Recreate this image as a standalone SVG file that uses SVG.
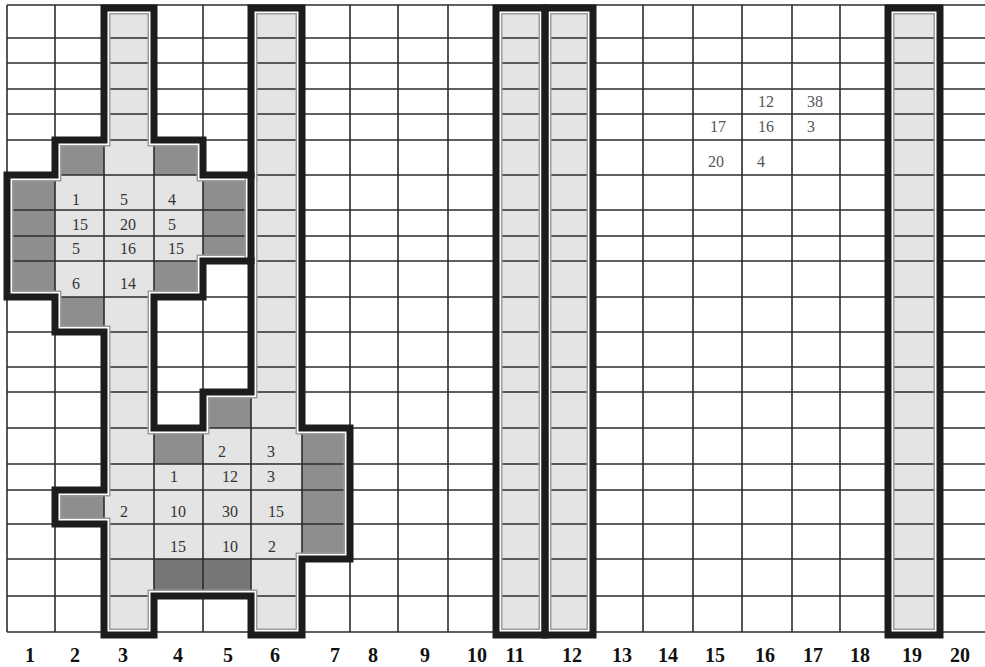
<svg xmlns="http://www.w3.org/2000/svg" xmlns:xlink="http://www.w3.org/1999/xlink" width="985" height="667" viewBox="0 0 985 667">
<style>
.lt{fill:#e4e4e4}
.dk{fill:#8e8e8e}
.dk2{fill:#777}
.grid line{stroke:#2b2b2b;stroke-width:1.6}
.o1{fill:none;stroke:#9c9c9c;stroke-width:13}
.o2{fill:none;stroke:#fff;stroke-width:10}
.o3{fill:none;stroke:#1c1c1c;stroke-width:7;stroke-linecap:square}
.num{font-family:"Liberation Serif","Times New Roman",serif;font-size:16px;fill:#333}
.num2{font-family:"Liberation Serif","Times New Roman",serif;font-size:16px;fill:#555}
.lbl{font-family:"Liberation Serif","Times New Roman",serif;font-weight:bold;font-size:20px;fill:#111;text-anchor:middle}
</style>
<defs>
<path id="pL" fill-rule="evenodd" d="M104,8 H154 V140 H203 V175 H251 V8 H302 V428 H350 V559 H302 V635 H251 V596 H154 V635 H104 V524 H55 V490 H104 V332 H55 V297 H7 V175 H55 V140 H104 Z M154,297 H203 V261 H251 V392 H203 V428 H154 Z"/>
<path id="p11" d="M496,8 H545 V635 H496 Z"/>
<path id="p12" d="M545,8 H593 V635 H545 Z"/>
<path id="p19" d="M888,8 H940 V635 H888 Z"/>
<clipPath id="cL"><path clip-rule="evenodd" d="M104,8 H154 V140 H203 V175 H251 V8 H302 V428 H350 V559 H302 V635 H251 V596 H154 V635 H104 V524 H55 V490 H104 V332 H55 V297 H7 V175 H55 V140 H104 Z M154,297 H203 V261 H251 V392 H203 V428 H154 Z"/></clipPath>
<clipPath id="c11"><path d="M496,8 H545 V635 H496 Z"/></clipPath>
<clipPath id="c12"><path d="M545,8 H593 V635 H545 Z"/></clipPath>
<clipPath id="c19"><path d="M888,8 H940 V635 H888 Z"/></clipPath>
</defs>
<rect width="985" height="667" fill="#fff"/>

<g id="fills">
<use xlink:href="#pL" class="lt" fill-rule="evenodd"/>
<use xlink:href="#p11" class="lt"/>
<use xlink:href="#p12" class="lt"/>
<use xlink:href="#p19" class="lt"/>
<rect class="dk" x="55" y="140" width="49" height="35"/>
<rect class="dk" x="154" y="140" width="49" height="35"/>
<rect class="dk" x="7" y="175" width="48" height="122"/>
<rect class="dk" x="203" y="175" width="48" height="86"/>
<rect class="dk" x="154" y="261" width="49" height="36"/>
<rect class="dk" x="55" y="297" width="49" height="35"/>
<rect class="dk" x="203" y="392" width="48" height="36"/>
<rect class="dk" x="154" y="428" width="49" height="36"/>
<rect class="dk" x="302" y="428" width="48" height="131"/>
<rect class="dk" x="55" y="490" width="49" height="34"/>
<rect class="dk2" x="154" y="559" width="97" height="37"/>
</g>

<g id="grid" class="grid">
<line x1="7" y1="5" x2="985" y2="5"/>
<line x1="7" y1="38" x2="985" y2="38"/>
<line x1="7" y1="63" x2="985" y2="63"/>
<line x1="7" y1="89" x2="985" y2="89"/>
<line x1="7" y1="114" x2="985" y2="114"/>
<line x1="7" y1="140" x2="985" y2="140"/>
<line x1="7" y1="175" x2="985" y2="175"/>
<line x1="7" y1="210" x2="985" y2="210"/>
<line x1="7" y1="236" x2="985" y2="236"/>
<line x1="7" y1="261" x2="985" y2="261"/>
<line x1="7" y1="297" x2="985" y2="297"/>
<line x1="7" y1="332" x2="985" y2="332"/>
<line x1="7" y1="367" x2="985" y2="367"/>
<line x1="7" y1="392" x2="985" y2="392"/>
<line x1="7" y1="428" x2="985" y2="428"/>
<line x1="7" y1="464" x2="985" y2="464"/>
<line x1="7" y1="490" x2="985" y2="490"/>
<line x1="7" y1="524" x2="985" y2="524"/>
<line x1="7" y1="559" x2="985" y2="559"/>
<line x1="7" y1="596" x2="985" y2="596"/>
<line x1="7" y1="632" x2="985" y2="632"/>
<line x1="7" y1="5" x2="7" y2="632"/>
<line x1="55" y1="5" x2="55" y2="632"/>
<line x1="104" y1="5" x2="104" y2="632"/>
<line x1="154" y1="5" x2="154" y2="632"/>
<line x1="203" y1="5" x2="203" y2="632"/>
<line x1="251" y1="5" x2="251" y2="632"/>
<line x1="302" y1="5" x2="302" y2="632"/>
<line x1="350" y1="5" x2="350" y2="632"/>
<line x1="398" y1="5" x2="398" y2="632"/>
<line x1="448" y1="5" x2="448" y2="632"/>
<line x1="496" y1="5" x2="496" y2="632"/>
<line x1="545" y1="5" x2="545" y2="632"/>
<line x1="593" y1="5" x2="593" y2="632"/>
<line x1="643" y1="5" x2="643" y2="632"/>
<line x1="693" y1="5" x2="693" y2="632"/>
<line x1="742" y1="5" x2="742" y2="632"/>
<line x1="792" y1="5" x2="792" y2="632"/>
<line x1="840" y1="5" x2="840" y2="632"/>
<line x1="888" y1="5" x2="888" y2="632"/>
<line x1="940" y1="5" x2="940" y2="632"/>
</g>

<g id="outline-inner">
<g clip-path="url(#cL)"><use xlink:href="#pL" class="o1"/><use xlink:href="#pL" class="o2"/></g>
<g clip-path="url(#c11)"><use xlink:href="#p11" class="o1"/><use xlink:href="#p11" class="o2"/></g>
<g clip-path="url(#c12)"><use xlink:href="#p12" class="o1"/><use xlink:href="#p12" class="o2"/></g>
<g clip-path="url(#c19)"><use xlink:href="#p19" class="o1"/><use xlink:href="#p19" class="o2"/></g>
<line x1="251" y1="178.5" x2="251" y2="257.5" stroke="#9c9c9c" stroke-width="13"/>
<line x1="251" y1="178.5" x2="251" y2="257.5" stroke="#fff" stroke-width="10"/>
</g>

<g id="outline-thick">
<use xlink:href="#pL" class="o3"/>
<line class="o3" x1="251" y1="175" x2="251" y2="261"/>
<use xlink:href="#p11" class="o3"/>
<use xlink:href="#p12" class="o3"/>
<use xlink:href="#p19" class="o3"/>
</g>

<g id="values-upper">
<text class="num" x="72" y="205">1</text>
<text class="num" x="120" y="205">5</text>
<text class="num" x="168" y="205">4</text>
<text class="num" x="72" y="230">15</text>
<text class="num" x="120" y="230">20</text>
<text class="num" x="168" y="230">5</text>
<text class="num" x="72" y="254">5</text>
<text class="num" x="120" y="254">16</text>
<text class="num" x="168" y="254">15</text>
<text class="num" x="72" y="289">6</text>
<text class="num" x="120" y="289">14</text>
</g>

<g id="values-lower">
<text class="num" x="218" y="457">2</text>
<text class="num" x="267" y="457">3</text>
<text class="num" x="170" y="482">1</text>
<text class="num" x="222" y="482">12</text>
<text class="num" x="267" y="482">3</text>
<text class="num" x="120" y="517">2</text>
<text class="num" x="170" y="517">10</text>
<text class="num" x="222" y="517">30</text>
<text class="num" x="268" y="517">15</text>
<text class="num" x="170" y="552">15</text>
<text class="num" x="222" y="552">10</text>
<text class="num" x="268" y="552">2</text>
</g>

<g id="values-right">
<text class="num2" x="758" y="107">12</text>
<text class="num2" x="807" y="107">38</text>
<text class="num2" x="710" y="132">17</text>
<text class="num2" x="758" y="132">16</text>
<text class="num2" x="807" y="132">3</text>
<text class="num2" x="708" y="167">20</text>
<text class="num2" x="757" y="167">4</text>
</g>

<g id="column-labels">
<text class="lbl" x="30" y="662">1</text>
<text class="lbl" x="75" y="662">2</text>
<text class="lbl" x="123" y="662">3</text>
<text class="lbl" x="178" y="662">4</text>
<text class="lbl" x="228" y="662">5</text>
<text class="lbl" x="275" y="662">6</text>
<text class="lbl" x="335" y="662">7</text>
<text class="lbl" x="373" y="662">8</text>
<text class="lbl" x="425" y="662">9</text>
<text class="lbl" x="477" y="662">10</text>
<text class="lbl" x="515" y="662">11</text>
<text class="lbl" x="572" y="662">12</text>
<text class="lbl" x="622" y="662">13</text>
<text class="lbl" x="668" y="662">14</text>
<text class="lbl" x="715" y="662">15</text>
<text class="lbl" x="765" y="662">16</text>
<text class="lbl" x="813" y="662">17</text>
<text class="lbl" x="860" y="662">18</text>
<text class="lbl" x="912" y="662">19</text>
<text class="lbl" x="960" y="662">20</text>
</g>
</svg>
